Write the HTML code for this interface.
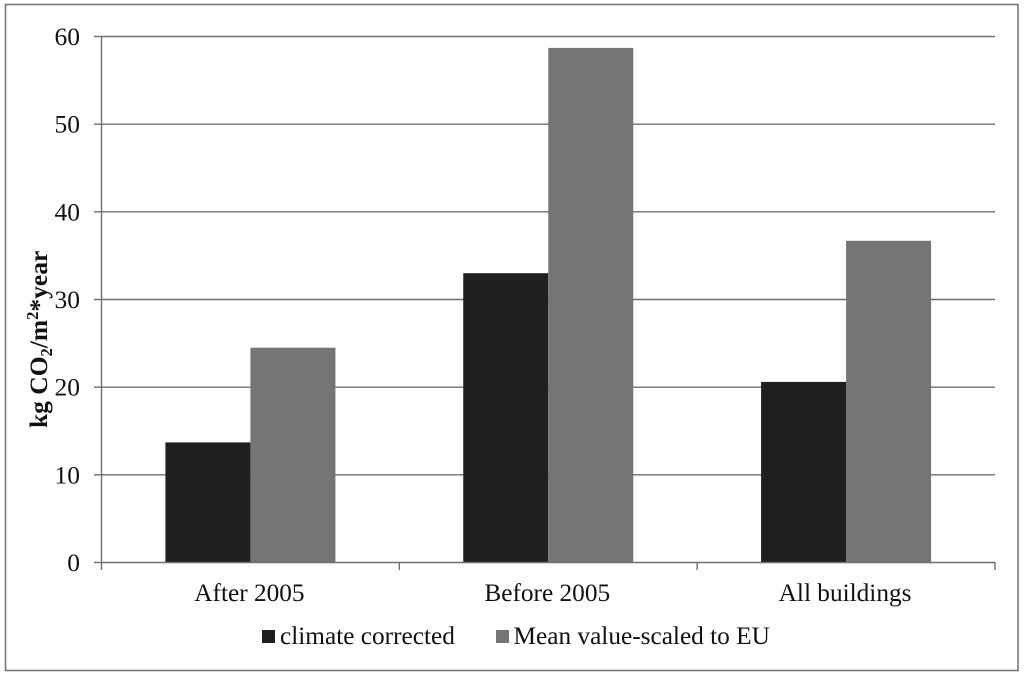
<!DOCTYPE html>
<html>
<head>
<meta charset="utf-8">
<style>
html,body{margin:0;padding:0;background:#fff;width:1024px;height:677px;overflow:hidden}
svg{display:block}
text{font-family:"Liberation Serif",serif;fill:#111}
</style>
</head>
<body>
<svg id="chart" width="1024" height="677" viewBox="0 0 1024 677" xmlns="http://www.w3.org/2000/svg">
<rect x="5.5" y="4.5" width="1012.5" height="666" fill="#fff" stroke="#777" stroke-width="1.6"/>
<g id="grid"></g>
<g id="bars"></g>
<g id="axes"></g>
<text transform="translate(47,428) rotate(-90)" font-size="25.5" font-weight="bold" style="font-weight:bold">kg CO<tspan font-size="16.5" dy="5">2</tspan><tspan dy="-5">/m</tspan><tspan font-size="16.5" dy="-9">2</tspan><tspan dy="9">*year</tspan></text>
<g>
<rect x="262" y="630" width="13" height="13" fill="#1f1f1f"/>
<text x="280" y="644" font-size="25.3">climate corrected</text>
<rect x="496" y="630" width="13" height="13" fill="#757575"/>
<text x="513.5" y="644" font-size="25.3">Mean value-scaled to EU</text>
</g>
</svg>
<script>
const categories = ['After 2005', 'Before 2005', 'All buildings'];
const climateCorrected = [13.7, 33, 20.6];
const meanValueScaled = [24.5, 58.7, 36.7];
const yTicks = [0, 10, 20, 30, 40, 50, 60];

const NS = 'http://www.w3.org/2000/svg';
const plotLeft = 101.5, plotRight = 995, plotTop = 36.5, plotBottom = 562.5, yMax = 60;
const barWidth = 85;
const yScale = v => plotBottom - (v / yMax) * (plotBottom - plotTop);
const bandWidth = (plotRight - plotLeft) / categories.length;
const bandCenter = i => plotLeft + bandWidth * (i + 0.5);

function make(tag, attrs, parent) {
  const el = document.createElementNS(NS, tag);
  for (const k in attrs) el.setAttribute(k, attrs[k]);
  parent.appendChild(el);
  return el;
}
const grid = document.getElementById('grid');
const bars = document.getElementById('bars');
const axes = document.getElementById('axes');
const axisColor = '#6f6f6f';

yTicks.forEach(t => {
  const y = yScale(t);
  if (t !== 0) {
    const g = make('line', {x1: plotLeft, x2: plotRight, y1: y, y2: y, stroke: axisColor, 'stroke-width': 1.4}, grid);
    
    
  }
  const tick = make('line', {x1: 94, x2: plotLeft, y1: y, y2: y, stroke: axisColor, 'stroke-width': 1.4}, axes);
  
  
  const label = make('text', {x: 80, y: y + 8.5, 'text-anchor': 'end', 'font-size': 25.5}, axes);
  label.textContent = t;
  
  
});

categories.forEach((c, i) => {
  const cx = bandCenter(i);
  const y1 = yScale(climateCorrected[i]);
  const b1 = make('rect', {x: cx - barWidth, y: y1, width: barWidth, height: plotBottom - y1, fill: '#1f1f1f'}, bars);
  
  
  const y2 = yScale(meanValueScaled[i]);
  const b2 = make('rect', {x: cx, y: y2, width: barWidth, height: plotBottom - y2, fill: '#757575'}, bars);
  
  
  const label = make('text', {x: cx - 1, y: 601, 'text-anchor': 'middle', 'font-size': 25.3}, axes);
  label.textContent = c;
  
  
});

for (let i = 0; i <= categories.length; i++) {
  const x = plotLeft + bandWidth * i;
  const tick = make('line', {x1: x, x2: x, y1: plotBottom, y2: 570, stroke: axisColor, 'stroke-width': 1.4}, axes);
  
  
}
const yAxis = make('line', {x1: plotLeft, x2: plotLeft, y1: plotTop, y2: plotBottom, stroke: axisColor, 'stroke-width': 1.4}, axes);


const xAxis = make('line', {x1: plotLeft, x2: plotRight, y1: plotBottom, y2: plotBottom, stroke: axisColor, 'stroke-width': 1.4}, axes);


</script>
</body>
</html>
